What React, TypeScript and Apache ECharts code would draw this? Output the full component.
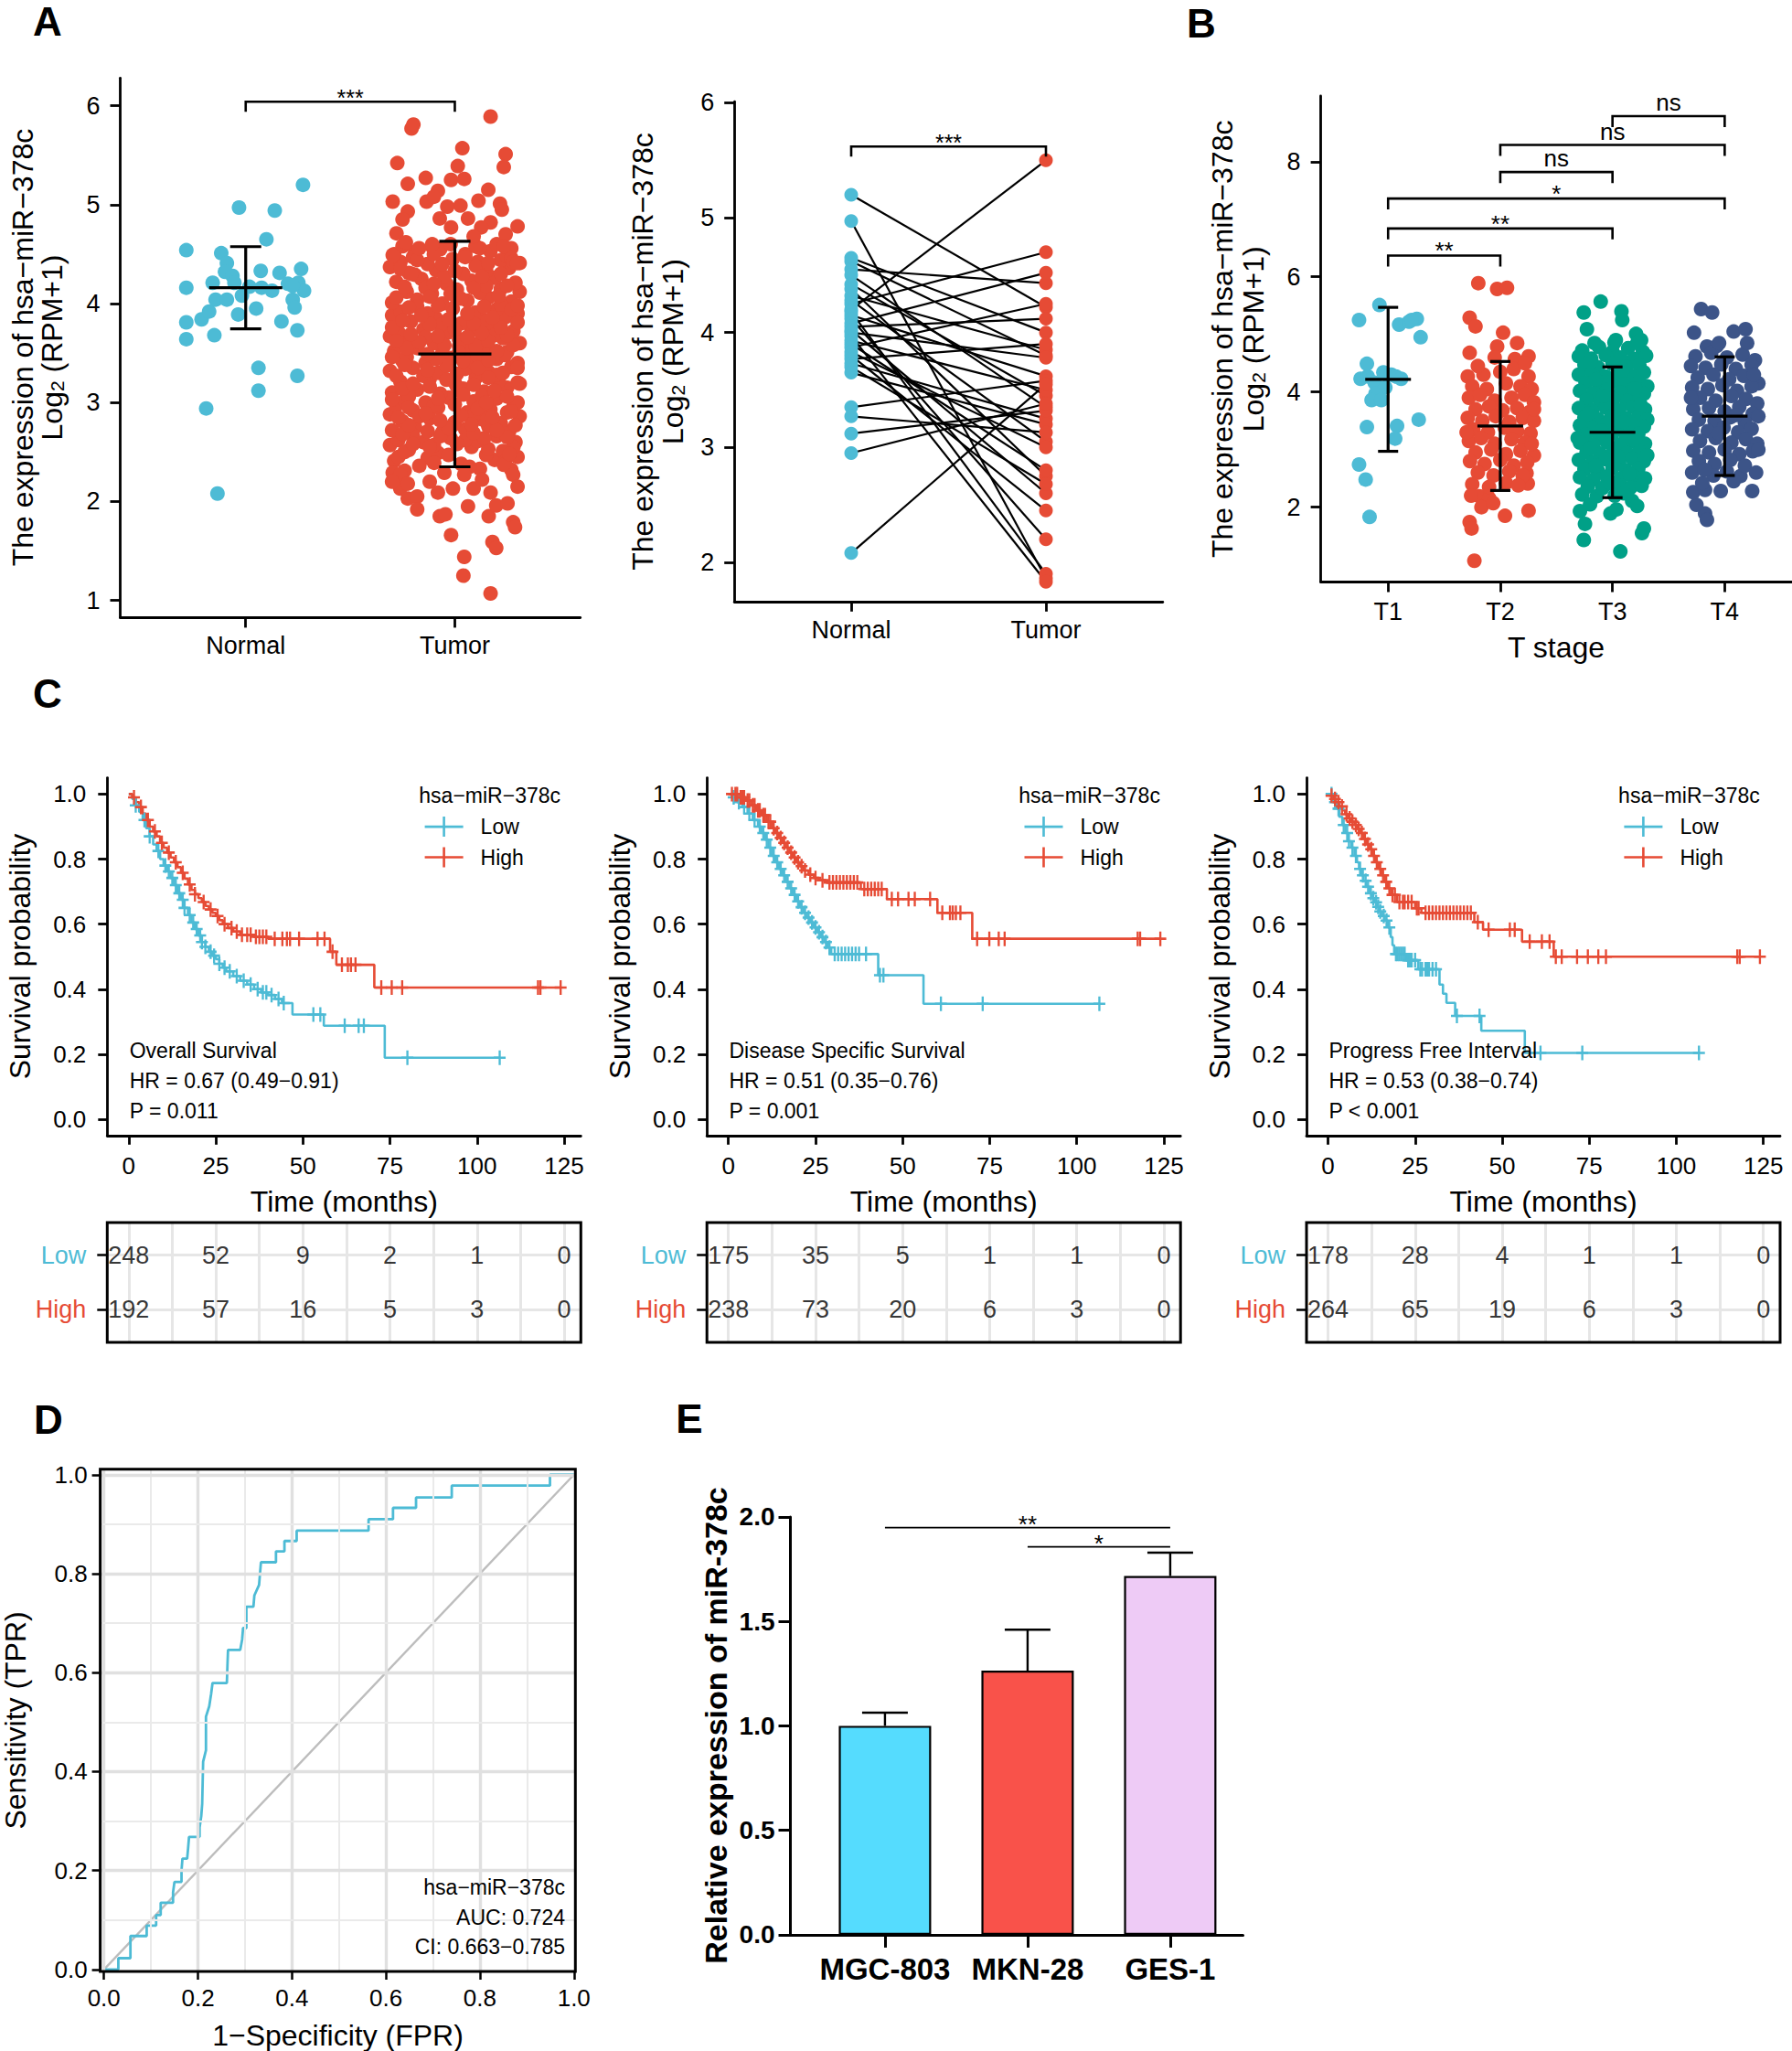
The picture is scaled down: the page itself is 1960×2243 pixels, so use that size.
import React, { useEffect, useRef } from "react";
import * as echarts from "echarts";

const FONT = '"Liberation Sans", Arial, Helvetica, sans-serif';
const BLUE = "#4DBBD5";
const RED = "#E64B35";
const GREEN = "#00A087";
const NAVY = "#3C5488";

// ---------------- Panel A (left): jittered points [offset, value] ----------------
const groupsA = ["Normal", "Tumor"];
const a1Normal = [[-0.284,4.54],[-0.284,4.16],[-0.284,3.81],[-0.284,3.64],[-0.211,3.84],[-0.175,3.92],[-0.15,3.68],[-0.144,4.04],[-0.158,4.21],[-0.117,4.51],[-0.09,4.41],[-0.099,4.32],[-0.063,4.28],[-0.036,3.89],[-0.032,4.97],[-0.189,2.94],[-0.135,2.08],[0.061,3.35],[0.061,3.12],[0.05,3.95],[0.072,4.33],[0.076,4.16],[0.099,4.65],[0.139,4.94],[0.162,4.31],[0.171,3.82],[0.202,4.2],[0.225,4.04],[0.234,3.96],[0.247,3.73],[0.247,3.27],[0.265,4.35],[0.252,4.21],[0.279,4.13],[0.274,5.2],[-0.018,4.08],[0.018,4.17],[-0.054,4.21],[0.126,4.13],[-0.09,4.04],[0.225,4.18]];
const a1Tumor = [
[-0.24,2.31],[0.12,2.33],[-0.05,2.29],[0.27,2.32],
[-0.29,2.41],[-0.13,2.44],[0.03,2.38],[0.19,2.42],[0.3,2.45],
[-0.22,2.52],[-0.08,2.49],[0.08,2.55],[0.23,2.51],[-0.31,2.57],
[-0.27,2.62],[-0.15,2.6],[-0.02,2.64],[0.11,2.61],[0.2,2.66],[0.29,2.6],
[-0.3,2.72],[-0.19,2.75],[-0.06,2.7],[0.05,2.73],[0.16,2.76],[0.26,2.71],
[-0.25,2.81],[-0.12,2.84],[0.0,2.8],[0.13,2.83],[0.22,2.79],[0.31,2.86],[-0.31,2.88],
[-0.2,2.92],[-0.08,2.95],[0.06,2.9],[0.17,2.93],[0.28,2.96],[-0.28,2.97],
[-0.24,3.02],[-0.14,3.0],[-0.03,3.05],[0.09,3.01],[0.2,3.04],[0.3,3.0],
[-0.3,3.1],[-0.18,3.13],[-0.07,3.09],[0.04,3.14],[0.14,3.11],[0.25,3.15],
[-0.26,3.21],[-0.12,3.24],[0.0,3.2],[0.1,3.25],[0.21,3.22],[0.31,3.19],
[-0.31,3.32],[-0.2,3.35],[-0.08,3.3],[0.05,3.34],[0.16,3.31],[0.27,3.36],
[-0.25,3.42],[-0.14,3.4],[-0.02,3.45],[0.09,3.41],[0.2,3.44],[0.3,3.4],
[-0.29,3.52],[-0.18,3.55],[-0.06,3.5],[0.06,3.53],[0.15,3.56],[0.25,3.51],
[-0.22,3.62],[-0.1,3.6],[0.02,3.64],[0.12,3.61],[0.23,3.65],[0.31,3.6],[-0.31,3.67],
[-0.27,3.71],[-0.15,3.74],[-0.04,3.7],[0.08,3.73],[0.18,3.76],[0.28,3.72],
[-0.21,3.82],[-0.09,3.85],[0.03,3.8],[0.14,3.83],[0.24,3.86],[-0.3,3.88],
[-0.26,3.92],[-0.13,3.9],[-0.01,3.95],[0.1,3.91],[0.2,3.94],[0.3,3.9],
[-0.3,4.01],[-0.18,4.04],[-0.06,4.0],[0.06,4.03],[0.16,4.06],[0.27,4.02],
[-0.23,4.12],[-0.11,4.1],[0.01,4.14],[0.12,4.11],[0.22,4.15],[0.31,4.12],
[-0.28,4.22],[-0.16,4.25],[-0.04,4.2],[0.08,4.23],[0.19,4.26],[0.29,4.21],
[-0.22,4.31],[-0.09,4.34],[0.04,4.3],[0.15,4.33],[0.26,4.36],[-0.31,4.37],
[-0.26,4.42],[-0.13,4.4],[-0.01,4.45],[0.11,4.42],[0.22,4.44],[0.31,4.41],
[-0.19,4.52],[-0.07,4.55],[0.05,4.5],[0.17,4.53],[0.27,4.56],
[-0.27,2.45],[-0.1,2.57],[0.15,2.47],[0.05,2.62],[-0.2,2.67],[0.24,2.68],[-0.01,2.77],[-0.17,2.86],[0.09,2.87],[0.25,2.9],[-0.1,2.97],[0.13,3.07],[-0.22,3.06],[0.01,3.16],[-0.15,3.27],[0.2,3.28],[-0.04,3.37],[0.11,3.47],[-0.23,3.46],[0.02,3.57],[-0.14,3.66],[0.19,3.68],[-0.07,3.78],[0.09,3.87],[-0.18,3.97],[0.22,3.99],[0.0,4.08],[-0.14,4.16],[0.15,4.18],[-0.05,4.27],[0.1,4.38],[-0.2,4.47],[0.25,4.48],[-0.11,4.58],[0.2,4.6],
[-0.17,2.36],[0.07,2.35],[0.24,2.4],[-0.03,2.47],[-0.24,2.5],[0.16,2.53],[-0.12,2.55],[0.28,2.55],[0.01,2.58],[-0.2,2.58],
[0.14,2.64],[-0.07,2.66],[0.25,2.65],[-0.25,2.68],[0.09,2.69],[-0.13,2.71],[0.2,2.72],[-0.03,2.74],[0.29,2.77],[-0.22,2.77],
[0.08,2.78],[-0.07,2.82],[0.18,2.85],[-0.27,2.85],[0.03,2.87],[-0.14,2.89],[0.27,2.91],[0.11,2.94],[-0.22,2.95],[0.0,2.98],
[-0.3,3.03],[0.15,3.0],[-0.08,3.04],[0.25,3.06],[0.04,3.08],[-0.25,3.14],[0.19,3.12],[-0.12,3.16],[0.09,3.18],[0.3,3.2],
[-0.2,3.19],[-0.04,3.23],[0.16,3.25],[-0.28,3.27],[0.01,3.29],[0.23,3.3],[-0.13,3.33],[0.11,3.35],[-0.24,3.38],[0.3,3.35],
[0.04,3.42],[-0.09,3.44],[0.16,3.43],[-0.3,3.46],[0.24,3.48],[-0.13,3.49],[0.02,3.51],[0.2,3.52],[-0.23,3.55],[0.1,3.57],
[-0.05,3.58],[0.28,3.58],[-0.17,3.61],[0.16,3.62],[-0.28,3.62],[0.06,3.66],[-0.08,3.67],[0.25,3.68],[-0.21,3.69],[0.13,3.7],
[0.0,3.74],[-0.3,3.76],[0.22,3.76],[-0.12,3.79],[0.09,3.8],[0.3,3.81],[-0.25,3.83],[-0.03,3.84],[0.18,3.86],[-0.16,3.88],
[0.06,3.9],[0.27,3.94],[-0.22,3.96],[0.14,3.97],[-0.08,3.98],[0.3,3.98],[-0.28,4.06],[0.03,4.05],[0.21,4.08],[-0.12,4.07],
[-0.02,4.1],[0.09,4.16],[-0.24,4.17],[0.25,4.18],[-0.1,4.2],[0.13,4.27],[-0.19,4.29],[0.0,4.33],[0.22,4.3],[-0.26,4.35],
[-0.06,4.4],[0.16,4.41],[-0.18,4.44],[0.05,4.47],[0.27,4.46],[-0.29,4.5],[-0.1,4.5],[0.12,4.56],[-0.02,4.6],[-0.25,4.58],
[-0.207,5.77],[-0.198,5.81],[0.171,5.89],[0.036,5.57],[0.243,5.51],[0.234,5.38],[-0.275,5.42],[0.014,5.39],[-0.139,5.27],[-0.225,5.21],[-0.018,5.25],[0.045,5.26],[-0.081,5.14],[-0.135,5.03],[-0.297,5.03],[0.113,5.04],[0.216,5.01],[0.225,4.95],[-0.225,4.93],[0.027,4.99],[-0.036,4.98],[-0.072,4.86],[0.063,4.86],[0.171,4.82],[0.126,4.77],[-0.018,4.77],[-0.279,4.71],[0.243,4.7],[-0.234,4.62],[0.234,4.58],[-0.171,4.56],[-0.108,4.6],[0.099,4.58],[-0.297,4.49],[0.279,4.42],[0.297,4.41],[-0.207,4.3],[-0.1,5.08],[0.16,5.15],[-0.25,4.85],[0.3,4.78],[0.09,4.68],
[-0.297,2.29],[-0.261,2.27],[-0.261,2.13],[-0.225,2.03],[-0.18,2.05],[-0.18,1.92],[-0.081,2.09],[-0.009,2.13],[0.063,1.95],[0.09,2.13],[-0.072,1.85],[-0.045,1.87],[-0.018,1.66],[0.045,1.44],[0.041,1.25],[0.171,1.07],[0.162,1.85],[0.198,1.96],[0.252,1.98],[0.18,1.59],[0.198,1.53],[0.279,1.79],[0.288,1.74],[0.234,2.37],[0.279,2.27],[0.261,2.48],[0.045,2.27],[-0.099,2.39],[-0.225,2.18],[0.171,2.09],[-0.12,2.2],[0.13,2.22],[0.3,2.15],[-0.3,2.2]
];
const a1Mean = [4.16, 3.49];
const a1Sd = [0.415, 1.14];
const a1BrStart = [1];
const a1BrEnd = [2];
const a1BrY = [6.04];
const a1BrLab = ["***"];

// ---------------- Panel A (right): paired samples ----------------
const pairNormal = [5.2,4.97,4.65,4.62,4.55,4.5,4.42,4.38,4.32,4.28,4.25,4.2,4.18,4.15,4.12,4.08,4.05,4.02,4.0,3.97,3.93,3.9,3.87,3.83,3.8,3.77,3.73,3.7,3.65,3.35,3.27,3.12,2.95,2.08];
const pairTumor = [4.22,1.86,4.0,3.8,4.43,3.35,3.45,2.75,3.85,3.05,4.7,5.5,1.9,3.62,2.2,4.52,4.12,2.6,3.78,1.83,3.5,2.8,4.25,3.0,2.45,3.9,3.25,2.68,3.2,3.58,3.13,3.32,3.38,3.55];
const a2BrY = [5.62];

// ---------------- Panel B: T stage ----------------
const stages = ["T1", "T2", "T3", "T4"];
const stageColors = [BLUE, RED, GREEN, NAVY];
const t1Pts = [[-0.077,5.51],[-0.259,5.25],[0.098,5.17],[0.186,5.22],[0.256,5.27],[0.21,5.25],[0.29,4.95],[-0.189,4.49],[-0.182,4.27],[-0.245,4.23],[-0.119,4.16],[-0.042,4.34],[0.028,4.3],[0.07,4.27],[0.116,4.23],[-0.025,4.08],[-0.112,3.97],[-0.147,3.86],[-0.06,3.86],[0.273,3.52],[-0.189,3.39],[0.08,3.41],[0.063,3.19],[-0.259,2.74],[-0.2,2.48],[-0.165,1.83]];
const t2Pts = [[-0.196,5.89],[-0.028,5.79],[0.06,5.81],[-0.273,5.29],[-0.221,5.14],[0.025,5.03],[-0.028,4.79],[-0.273,4.68],[0.252,4.62],[0.13,4.57],[-0.29,4.27],[0.252,4.27],[-0.273,1.74],[-0.256,1.63],[-0.231,1.07],[0.042,1.85],[0.252,1.94],[-0.186,2.19],[-0.098,2.15],[-0.168,2.0],[-0.063,2.07],[0.245,2.41],[0.234,2.59],
[-0.25,4.1],[-0.12,4.05],[0.05,4.15],[0.18,4.1],[0.28,4.05],
[-0.28,3.9],[-0.18,3.95],[-0.05,3.85],[0.1,3.9],[0.22,3.95],[0.3,3.82],
[-0.22,3.7],[-0.1,3.75],[0.02,3.68],[0.15,3.72],[0.26,3.65],
[-0.29,3.55],[-0.16,3.5],[-0.04,3.58],[0.08,3.48],[0.2,3.55],[0.3,3.5],
[-0.24,3.35],[-0.11,3.3],[0.04,3.38],[0.15,3.32],[0.27,3.28],
[-0.28,3.15],[-0.17,3.2],[-0.05,3.1],[0.1,3.18],[0.22,3.12],
[-0.22,2.95],[-0.08,3.0],[0.05,2.92],[0.18,2.98],[0.3,2.9],
[-0.27,2.8],[-0.14,2.75],[0.0,2.82],[0.12,2.72],[0.24,2.78],
[-0.2,2.6],[-0.06,2.55],[0.08,2.62],[0.2,2.55],
[-0.25,2.4],[-0.1,2.35],[0.05,2.42],[0.16,2.38],
[-0.15,4.3],[0.0,4.35],[0.12,4.4],[-0.2,4.45],[0.22,4.5],
[-0.3,3.3],[0.3,3.7],[-0.05,4.6],[0.15,4.85],[-0.26,2.2],[0.28,3.1]];
const t3Pts = [[-0.105,5.57],[-0.256,5.38],[0.08,5.4],[0.087,5.25],[0.21,5.01],[0.255,4.9],[-0.228,5.09],[0.018,4.86],[-0.29,1.93],[-0.245,1.71],[-0.256,1.43],[0.07,1.23],[0.263,1.55],[0.28,1.63],[-0.018,1.89],[-0.14,2.19],[0.175,2.11],[0.035,1.96],
[-0.27,4.72],[-0.12,4.78],[0.0,4.7],[0.14,4.76],[0.27,4.7],
[-0.3,4.62],[-0.19,4.58],[-0.06,4.64],[0.07,4.6],[0.19,4.57],[0.3,4.63],
[-0.25,4.47],[-0.13,4.43],[0.0,4.49],[0.12,4.44],[0.24,4.46],
[-0.3,4.3],[-0.18,4.33],[-0.06,4.27],[0.06,4.32],[0.17,4.28],[0.28,4.34],
[-0.24,4.16],[-0.12,4.13],[0.0,4.18],[0.11,4.14],[0.23,4.17],[0.31,4.1],
[-0.29,4.02],[-0.17,3.98],[-0.05,4.03],[0.07,3.99],[0.18,4.04],[0.28,3.97],
[-0.23,3.86],[-0.11,3.83],[0.01,3.88],[0.13,3.84],[0.24,3.87],
[-0.3,3.72],[-0.18,3.68],[-0.06,3.73],[0.06,3.69],[0.18,3.74],[0.29,3.7],
[-0.25,3.56],[-0.13,3.53],[-0.01,3.58],[0.12,3.54],[0.23,3.57],[0.31,3.52],
[-0.29,3.42],[-0.18,3.38],[-0.06,3.43],[0.06,3.39],[0.17,3.44],[0.28,3.4],
[-0.24,3.26],[-0.12,3.23],[0.0,3.28],[0.12,3.24],[0.23,3.27],[-0.31,3.2],
[-0.29,3.12],[-0.17,3.08],[-0.05,3.13],[0.07,3.09],[0.18,3.14],[0.29,3.1],
[-0.23,2.96],[-0.11,2.93],[0.01,2.98],[0.13,2.94],[0.24,2.97],[0.31,2.9],
[-0.3,2.82],[-0.18,2.78],[-0.06,2.83],[0.06,2.79],[0.18,2.84],[0.28,2.8],
[-0.25,2.66],[-0.13,2.63],[0.0,2.68],[0.12,2.64],[0.23,2.67],
[-0.29,2.52],[-0.17,2.48],[-0.05,2.53],[0.07,2.49],[0.18,2.54],[0.29,2.5],
[-0.22,2.36],[-0.09,2.33],[0.04,2.38],[0.16,2.34],[0.26,2.37],
[-0.27,2.22],[0.02,2.2],[0.1,2.24],[-0.2,2.05],[0.22,2.02],
[-0.2,4.52],[0.09,4.38],[-0.15,4.22],[0.2,4.06],[-0.08,3.93],[0.25,3.78],[-0.22,3.62],[0.1,3.48],[-0.1,3.33],[0.2,3.18],[-0.2,3.02],[0.05,2.88],[-0.15,2.72],[0.15,2.58],[-0.02,2.42],[0.03,4.9],[-0.16,4.85],[0.22,4.85]];
const t4Pts = [[-0.21,5.44],[-0.112,5.38],[-0.273,5.03],[0.08,5.05],[0.186,5.09],[-0.158,4.79],[-0.07,4.8],[-0.175,1.89],[-0.158,1.78],[-0.252,2.04],[-0.28,2.26],[-0.175,2.3],[-0.035,2.28],[0.245,2.28],[0.14,2.54],
[-0.26,4.62],[-0.12,4.68],[0.02,4.6],[0.16,4.65],[0.27,4.55],
[-0.3,4.45],[-0.17,4.42],[-0.03,4.48],[0.1,4.4],[0.24,4.47],
[-0.24,4.25],[-0.1,4.3],[0.04,4.22],[0.17,4.28],[0.3,4.15],
[-0.29,4.08],[-0.15,4.05],[-0.02,4.12],[0.11,4.02],[0.24,4.1],
[-0.22,3.9],[-0.08,3.85],[0.06,3.93],[0.19,3.88],[0.29,3.8],
[-0.28,3.7],[-0.14,3.72],[0.0,3.66],[0.13,3.74],[0.25,3.62],
[-0.23,3.52],[-0.09,3.5],[0.05,3.56],[0.18,3.48],[0.3,3.58],
[-0.29,3.35],[-0.15,3.32],[-0.01,3.38],[0.12,3.3],[0.24,3.36],
[-0.22,3.15],[-0.08,3.2],[0.06,3.12],[0.19,3.18],[0.29,3.1],
[-0.28,2.98],[-0.14,2.95],[0.0,3.0],[0.13,2.92],[0.25,2.97],
[-0.23,2.8],[-0.09,2.75],[0.05,2.82],[0.18,2.72],[0.28,2.6],
[-0.29,2.6],[-0.1,2.55],[0.02,2.62],[-0.2,2.42],[0.08,2.45],
[-0.05,4.85],[0.2,4.85],[0.26,4.3],[-0.3,3.9],[0.3,3.0],[-0.18,2.65],[0.1,3.6],[-0.05,3.28]];
const stageMean = [4.22, 3.41, 3.3, 3.58];
const stageSd = [1.25, 1.12, 1.135, 1.03];
const bBrStart = [1, 1, 1, 2, 2, 3];
const bBrEnd = [2, 3, 4, 3, 4, 4];
const bBrY = [6.37, 6.84, 7.36, 7.82, 8.29, 8.79];
const bBrLab = ["**", "**", "*", "ns", "ns", "ns"];

// ---------------- Panel C: Kaplan-Meier ----------------
const kmTitles = ["Overall Survival", "Disease Specific Survival", "Progress Free Interval"];
const kmHR = ["HR = 0.67 (0.49\u22120.91)", "HR = 0.51 (0.35\u22120.76)", "HR = 0.53 (0.38\u22120.74)"];
const kmP = ["P = 0.011", "P = 0.001", "P < 0.001"];

const osLowT = [0,1,2,3,4,5,6,7,8,9,10,11,12,13,14,15,16,17,18,19,20,21,22,23,24,25,26,27,28,30,32,34,36,38,40,42,44,47,56,73.5];
const osLowS = [1.0,0.985,0.965,0.945,0.92,0.895,0.87,0.845,0.825,0.8,0.78,0.762,0.742,0.72,0.695,0.675,0.65,0.628,0.605,0.585,0.565,0.545,0.53,0.515,0.503,0.492,0.478,0.466,0.455,0.44,0.426,0.414,0.4,0.39,0.382,0.37,0.357,0.322,0.2875,0.189];
const osLowC = [2,4.5,6,8.5,10.5,11.5,12.5,13.5,14.5,15.5,16,17.5,18.5,19.5,20.5,21,22,23.5,24.5,26,27.5,29,31,33,35,37,38.5,39.5,41,43,44.5,53,55,62,66,67.5,80,106.5];
const osHighT = [0,1,2,3,4,5,6,7,8,9,10,11,12,13,14,15,16,17,18,19,20,21,22,23,24,25,26,27,28.5,30,32,36,40,57.8,59.6,70.5];
const osHighS = [1.0,0.99,0.975,0.96,0.94,0.92,0.9,0.885,0.87,0.85,0.835,0.82,0.805,0.79,0.775,0.758,0.74,0.722,0.705,0.692,0.68,0.668,0.656,0.645,0.635,0.625,0.612,0.6,0.588,0.577,0.567,0.561,0.555,0.515,0.475,0.405];
const osHighC = [1.5,3.5,5.5,7.5,9.5,11.5,13.5,15.5,17.5,19,21.5,23.5,25.5,27.5,29.5,31,32.5,34,35,36.5,37.5,38.5,39.5,41.9,44.1,45.4,46.3,48.9,54.2,56.2,58.5,61.2,62.9,63.8,65.1,72.5,75.5,78.5,117.5,118.2,124];

const dssLowT = [0,1,2.5,4,5.5,7,8.5,9.5,10.5,11.5,12.5,13.5,14.5,15.5,16.5,17.5,18.5,19.5,20.5,21.5,22.5,23.5,24.5,25.5,26.5,27.5,28.5,29.5,43,56];
const dssLowS = [1.0,0.99,0.975,0.96,0.94,0.92,0.9,0.88,0.86,0.835,0.81,0.79,0.77,0.75,0.73,0.71,0.69,0.67,0.652,0.635,0.62,0.605,0.59,0.575,0.56,0.545,0.528,0.508,0.443,0.355];
const dssLowC = [1.5,3,4.5,6,7.5,9,10,11,12,13,14,15,16,17,18,19,20,21,22,23,24,25,26,27,28,29,30.5,31.5,32.5,33.5,34.5,35.5,36.5,37.5,39.5,43.5,44.5,61,73,106.5];
const dssHighT = [0,3,5,6.5,8,9.5,11,12.5,13.5,14.5,15.5,16.5,17.5,18.5,19.5,20.5,21.5,23,24.5,26,28,38,45.5,60,70];
const dssHighS = [1.0,0.99,0.98,0.965,0.95,0.935,0.915,0.895,0.88,0.865,0.85,0.835,0.82,0.805,0.79,0.778,0.765,0.752,0.742,0.735,0.728,0.708,0.677,0.635,0.555];
const dssHighC = [1,2,2.5,3.5,4,4.5,5.5,6,7,7.5,8.5,9,10,10.5,11.5,12,13,14,15,16,17,18,19,20,21,22,23.5,25,27,29,30,31,32,33,34,35,36,37,39,40,41,42,43,44,46.9,48.7,51.7,53.5,57.9,61.4,63.6,64.4,65.3,66.6,71.4,74.9,77.6,79.3,117.5,118.2,124];

const pfiLowT = [0,1.4,2.5,3.2,4.1,5,5.8,6.7,7.6,8.3,8.9,9.6,10.2,11,12,12.7,13.3,14,14.6,15.5,16.3,17.2,18,18.5,19,22.5,25.9,32,33,34,36.5,44,56.5];
const pfiLowS = [1.0,0.975,0.955,0.93,0.905,0.88,0.855,0.835,0.81,0.79,0.77,0.75,0.733,0.715,0.695,0.68,0.667,0.653,0.639,0.625,0.611,0.59,0.56,0.535,0.508,0.489,0.461,0.414,0.386,0.358,0.318,0.272,0.204];
const pfiLowC = [1,2,3,4.5,5.5,6,7,8,9.2,10,10.8,11.5,12.3,13,13.8,14.4,15,16,16.8,17.6,19.5,20,20.5,21,21.5,22,23,23.5,24,25,26.5,27,28,28.5,29,30,31,37,43.5,61,73,106.5];
const pfiHighT = [0,0.5,1.5,2.3,3.2,4.1,4.9,5.8,6.7,7.6,8.4,9.3,10.2,11.1,12,12.8,13.7,14.6,15.4,16.3,17.2,18.1,19.8,25,26.8,42,44.5,55.7,64.8];
const pfiHighS = [1.0,0.995,0.985,0.975,0.962,0.95,0.938,0.925,0.915,0.905,0.893,0.88,0.862,0.845,0.83,0.81,0.79,0.77,0.75,0.73,0.71,0.69,0.668,0.649,0.635,0.606,0.583,0.546,0.5];
const pfiHighC = [1,2,3,4,5.3,6.2,7,8,8.8,9.7,10.6,11.5,12.4,13.2,14,15,15.8,16.7,17.6,18.5,19.2,20.5,21.5,22,23,24,25.5,26,28,29,30,31,32,33,34,35,36,37,38,39,40,41,43,46.1,52.2,53.6,57.9,61.4,63.6,65.4,67.1,71.5,74.6,77.6,79.8,117.5,118.2,124];

const riskTimes = [0, 25, 50, 75, 100, 125];
const riskOsLow = [248, 52, 9, 2, 1, 0];
const riskOsHigh = [192, 57, 16, 5, 3, 0];
const riskDssLow = [175, 35, 5, 1, 1, 0];
const riskDssHigh = [238, 73, 20, 6, 3, 0];
const riskPfiLow = [178, 28, 4, 1, 1, 0];
const riskPfiHigh = [264, 65, 19, 6, 3, 0];
const riskGridX = [0, 12.5, 25, 37.5, 50, 62.5, 75, 87.5, 100, 112.5, 125];
const timeTicks = [0, 25, 50, 75, 100, 125];
const survTicks = [0, 0.2, 0.4, 0.6, 0.8, 1.0];

// ---------------- Panel D: ROC ----------------
const rocFpr = [0,0.0306,0.0306,0.0563,0.0563,0.0909,0.0909,0.111,0.111,0.1207,0.1207,0.147,0.147,0.15,0.165,0.165,0.167,0.177,0.179,0.181,0.2035,0.2035,0.207,0.209,0.211,0.217,0.217,0.224,0.228,0.231,0.2615,0.263,0.264,0.29,0.294,0.296,0.303,0.303,0.318,0.32,0.33,0.334,0.366,0.366,0.384,0.384,0.41,0.41,0.563,0.563,0.615,0.615,0.664,0.664,0.74,0.74,0.949,0.949,1.0];
const rocTpr = [0,0,0.0228,0.0228,0.0676,0.0676,0.0887,0.0887,0.11,0.11,0.135,0.135,0.156,0.177,0.177,0.2,0.224,0.224,0.245,0.268,0.268,0.287,0.31,0.335,0.42,0.443,0.511,0.532,0.557,0.579,0.579,0.621,0.646,0.646,0.667,0.69,0.69,0.733,0.733,0.756,0.777,0.823,0.823,0.845,0.845,0.866,0.866,0.887,0.887,0.91,0.91,0.933,0.933,0.954,0.954,0.978,0.978,1.0,1.0];
const diagX = [0, 1];
const diagY = [0, 1];
const rocTicks = [0, 0.2, 0.4, 0.6, 0.8, 1.0];
const rocMajor = [0.2, 0.4, 0.6, 0.8];
const rocMinor = [0.1, 0.3, 0.5, 0.7, 0.9];

// ---------------- Panel E: qPCR bars ----------------
const cellLines = ["MGC-803", "MKN-28", "GES-1"];
const cellMean = [1.0, 1.264, 1.717];
const cellSd = [0.063, 0.196, 0.112];
const cellColors = ["#55DCFE", "#F9524A", "#EECBF6"];
const eTicks = [0, 0.5, 1.0, 1.5, 2.0];
const eBrStart = [1, 2];
const eBrEnd = [3, 3];
const eBrY = [1.949, 1.857];
const eBrLab = ["**", "*"];

// ---------------- helpers ----------------
const PLUS = "path://M-0.18,-1H0.18V-0.16H1V0.16H0.18V1H-0.18V0.16H-1V-0.16H-0.18Z";
const LEGEND_ICON = "path://M0,9.7H42V12.3H0Z M19.7,0H22.3V22H19.7Z";

function survAt(T: number[], S: number[], t: number) {
  let v = S[0];
  for (let i = 0; i < T.length; i++) if (T[i] <= t) v = S[i];
  return v;
}

function jit(pts: number[][], x: number) {
  return pts.map((p) => [x + p[0], p[1]]);
}

function valAxis(gi: number, min: number, max: number, ticks: number[], fs: number, margin: number, fmt: any, o: any = {}) {
  return {
    type: "value",
    gridIndex: gi,
    min,
    max,
    axisLine: { show: o.line !== false, onZero: false, lineStyle: { color: "#000", width: o.lw || 2.8 } },
    axisTick: { show: true, length: o.tl || 11, customValues: ticks, lineStyle: { color: "#000", width: o.lw || 2.8 } },
    axisLabel: {
      show: true,
      customValues: ticks,
      fontSize: fs,
      color: "#000",
      margin,
      fontFamily: FONT,
      fontWeight: o.bold ? "bold" : "normal",
      formatter: fmt,
      rich: o.rich,
    },
    splitLine: { show: false },
  };
}

function meanSdSeries(gi: number, xs: number[], means: number[], sds: number[], meanHalf: number, capHalf: number) {
  return {
    type: "custom",
    xAxisIndex: gi,
    yAxisIndex: gi,
    z: 5,
    silent: true,
    data: xs.map((x, i) => [x, means[i], sds[i]]),
    renderItem: (params: any, api: any) => {
      const x = api.value(0), m = api.value(1), s = api.value(2);
      const c = api.coord([x, m]);
      const t = api.coord([x, m + s]);
      const b = api.coord([x, m - s]);
      const st = () => ({ stroke: "#000", lineWidth: 3.2 });
      return {
        type: "group",
        children: [
          { type: "line", shape: { x1: c[0], y1: t[1], x2: c[0], y2: b[1] }, style: st() },
          { type: "line", shape: { x1: c[0] - capHalf, y1: t[1], x2: c[0] + capHalf, y2: t[1] }, style: st() },
          { type: "line", shape: { x1: c[0] - capHalf, y1: b[1], x2: c[0] + capHalf, y2: b[1] }, style: st() },
          { type: "line", shape: { x1: c[0] - meanHalf, y1: c[1], x2: c[0] + meanHalf, y2: c[1] }, style: st() },
        ],
      };
    },
  };
}

function bracketSeries(gi: number, starts: number[], ends: number[], ys: number[], labels: string[], drop: number, fs: number, lw: number, starOff: number, textOff: number) {
  return {
    type: "custom",
    xAxisIndex: gi,
    yAxisIndex: gi,
    z: 6,
    silent: true,
    data: starts.map((s, i) => [s, ys[i], ends[i]]),
    renderItem: (params: any, api: any) => {
      const i = params.dataIndex;
      const p1 = api.coord([api.value(0), api.value(1)]);
      const p2 = api.coord([api.value(2), api.value(1)]);
      const lab = labels[i];
      const isStar = lab.indexOf("*") >= 0;
      const ty = p1[1] - (isStar ? starOff : textOff);
      return {
        type: "group",
        children: [
          {
            type: "polyline",
            shape: { points: [[p1[0], p1[1] + drop], [p1[0], p1[1]], [p2[0], p2[1]], [p2[0], p2[1] + drop]] },
            style: { stroke: "#000", lineWidth: lw, fill: "none" },
          },
          {
            type: "text",
            style: { text: lab, x: (p1[0] + p2[0]) / 2, y: ty, align: "center", verticalAlign: "middle", fontSize: fs, fontFamily: FONT, fill: "#000" },
          },
        ],
      };
    },
  };
}

function kmSeries(gi: number, T: number[], S: number[], C: number[], color: string, name: string) {
  const last = Math.max(...C);
  const lineData = T.map((t, i) => [t, S[i]]);
  if (last > T[T.length - 1]) lineData.push([last, S[S.length - 1]]);
  return [
    {
      type: "scatter",
      name,
      xAxisIndex: gi,
      yAxisIndex: gi,
      data: C.map((t) => [t, survAt(T, S, t)]),
      symbol: PLUS,
      symbolSize: [13, 16],
      itemStyle: { color, opacity: 1 },
      z: 4,
      silent: true,
    },
    {
      type: "line",
      name,
      xAxisIndex: gi,
      yAxisIndex: gi,
      data: lineData,
      step: "end",
      symbol: "none",
      lineStyle: { color, width: 2.6 },
      itemStyle: { color },
      z: 3,
      silent: true,
    },
  ];
}

function riskSeries(gi: number, low: number[], high: number[]) {
  const data: any[] = [];
  riskTimes.forEach((t, i) => {
    data.push([t, 2, low[i]]);
    data.push([t, 1, high[i]]);
  });
  return [
    {
      type: "scatter",
      xAxisIndex: gi,
      yAxisIndex: gi,
      data: [[50, 1.5]],
      symbolSize: 0,
      z: 1,
      silent: true,
      markLine: {
        silent: true,
        symbol: ["none", "none"],
        label: { show: false },
        lineStyle: { color: "#E6E6E6", width: 3, type: "solid" },
        data: [...riskGridX.map((v) => ({ xAxis: v })), { yAxis: 1 }, { yAxis: 2 }],
      },
    },
    {
      type: "scatter",
      xAxisIndex: gi,
      yAxisIndex: gi,
      data,
      symbolSize: 0,
      itemStyle: { color: "#000" },
      z: 5,
      silent: true,
      label: {
        show: true,
        position: "inside",
        formatter: (p: any) => String(p.value[2]),
        fontSize: 27,
        color: "#000",
        fontFamily: FONT,
        textBorderWidth: 0,
        textBorderColor: "transparent",
        textShadowBlur: 0,
      },
    },
  ];
}

function txt(text: string, x: number, y: number, o: any = {}) {
  const align = o.align || "left";
  return {
    type: "text",
    x,
    y,
    rotation: o.rot || 0,
    z: 100,
    silent: true,
    style: {
      text,
      fontSize: o.size || 23,
      fontFamily: FONT,
      fontWeight: o.weight || "normal",
      fill: "#000",
      align,
      verticalAlign: "middle",
      textAlign: align,
      textVerticalAlign: "middle",
      rich: o.rich,
    },
  };
}

function buildOption() {
  const kmLeft = [117.3, 773.2, 1429.0];
  const grids: any[] = [
    { left: 131.5, top: 85.3, width: 503.2, height: 590.1 },
    { left: 803.2, top: 111.2, width: 468.6, height: 546.6 },
    { left: 1444.6, top: 105, width: 515.4, height: 531.5 },
    ...kmLeft.map((l) => ({ left: l, top: 850.6, width: 518, height: 391.2 })),
    ...kmLeft.map((l) => ({ left: l, top: 1337, width: 518, height: 131, show: true, borderColor: "#000", borderWidth: 3, z: 10, backgroundColor: "transparent" })),
    { left: 109.6, top: 1606.8, width: 519.7, height: 549.2, show: true, borderColor: "#000", borderWidth: 3, z: 10, backgroundColor: "transparent" },
    { left: 864.5, top: 1658.9, width: 495, height: 457 },
  ].map((g) => ({ containLabel: false, outerBoundsMode: "none", ...g }));

  const fmt1 = (v: number) => v.toFixed(1);
  const fmtInt = (v: number) => String(Math.round(v));
  const xAxes: any[] = [];
  const yAxes: any[] = [];

  // A1
  xAxes.push(valAxis(0, 0.4, 2.6, [1, 2], 27, 17, (v: number) => groupsA[Math.round(v) - 1]));
  yAxes.push(valAxis(0, 0.826, 6.28, [1, 2, 3, 4, 5, 6], 27, 22, fmtInt));
  // A2
  xAxes.push(valAxis(1, 0.4, 2.6, [1, 2], 27, 18, (v: number) => groupsA[Math.round(v) - 1]));
  yAxes.push(valAxis(1, 1.658, 6.01, [2, 3, 4, 5, 6], 27, 22, fmtInt));
  // B
  xAxes.push(valAxis(2, 0.4, 4.6, [1, 2, 3, 4], 27, 19, (v: number) => stages[Math.round(v) - 1]));
  yAxes.push(valAxis(2, 0.7, 9.14, [2, 4, 6, 8], 27, 22, fmtInt));
  // KM plots
  for (let k = 0; k < 3; k++) {
    xAxes.push(valAxis(3 + k, -6.18, 129.8, timeTicks, 26, 20, fmtInt, { tl: 10 }));
    yAxes.push(valAxis(3 + k, -0.05, 1.05, survTicks, 26, 23, fmt1, { tl: 10 }));
  }
  // risk tables
  for (let k = 0; k < 3; k++) {
    xAxes.push({ type: "value", gridIndex: 6 + k, min: -6.18, max: 129.8, show: false });
    yAxes.push(
      valAxis(6 + k, 0.4, 2.6, [1, 2], 27, 23, (v: number) => (Math.round(v) === 2 ? "{l|Low}" : "{h|High}"), {
        line: false,
        tl: 11,
        lw: 2.5,
        rich: { l: { color: BLUE, fontSize: 27, fontFamily: FONT }, h: { color: RED, fontSize: 27, fontFamily: FONT } },
      })
    );
  }
  // D
  xAxes.push(valAxis(9, -0.008, 1.003, rocTicks, 26, 16, fmt1, { line: false, tl: 9, lw: 2.5 }));
  yAxes.push(valAxis(9, -0.004, 1.011, rocTicks, 26, 14, fmt1, { line: false, tl: 9, lw: 2.5 }));
  // E
  xAxes.push(valAxis(10, 0.337, 3.51, [1, 2, 3], 33, 21, (v: number) => cellLines[Math.round(v) - 1], { tl: 14, lw: 3, bold: true }));
  yAxes.push(valAxis(10, 0, 2, eTicks, 28, 17, fmt1, { tl: 13, lw: 3, bold: true }));

  const series: any[] = [];

  // A1
  series.push({ type: "scatter", xAxisIndex: 0, yAxisIndex: 0, data: jit(a1Normal, 1), symbolSize: 16, itemStyle: { color: BLUE, opacity: 1 }, z: 2, silent: true });
  series.push({ type: "scatter", xAxisIndex: 0, yAxisIndex: 0, data: jit(a1Tumor, 2), symbolSize: 16, itemStyle: { color: RED, opacity: 1 }, z: 2, silent: true });
  series.push(meanSdSeries(0, [1, 2], a1Mean, a1Sd, 40, 17));
  series.push(bracketSeries(0, a1BrStart, a1BrEnd, a1BrY, a1BrLab, 11, 25, 2.6, 4.5, 14));

  // A2
  series.push({
    type: "lines",
    coordinateSystem: "cartesian2d",
    xAxisIndex: 1,
    yAxisIndex: 1,
    polyline: false,
    silent: true,
    z: 2,
    lineStyle: { color: "#000", width: 2.2, opacity: 1 },
    data: pairNormal.map((n, i) => ({ coords: [[1, n], [2, pairTumor[i]]] })),
  });
  series.push({ type: "scatter", xAxisIndex: 1, yAxisIndex: 1, data: pairNormal.map((v) => [1, v]), symbolSize: 15, itemStyle: { color: BLUE, opacity: 1 }, z: 3, silent: true });
  series.push({ type: "scatter", xAxisIndex: 1, yAxisIndex: 1, data: pairTumor.map((v) => [2, v]), symbolSize: 15, itemStyle: { color: RED, opacity: 1 }, z: 3, silent: true });
  series.push(bracketSeries(1, [1], [2], a2BrY, ["***"], 11, 25, 2.6, 4.5, 14));

  // B
  [t1Pts, t2Pts, t3Pts, t4Pts].forEach((pts, i) => {
    series.push({ type: "scatter", xAxisIndex: 2, yAxisIndex: 2, data: jit(pts, i + 1), symbolSize: 16, itemStyle: { color: stageColors[i], opacity: 1 }, z: 2, silent: true });
  });
  series.push(meanSdSeries(2, [1, 2, 3, 4], stageMean, stageSd, 25, 11));
  series.push(bracketSeries(2, bBrStart, bBrEnd, bBrY, bBrLab, 12, 26, 2.6, 5, 15));

  // C
  series.push(...kmSeries(3, osLowT, osLowS, osLowC, BLUE, "Low"));
  series.push(...kmSeries(3, osHighT, osHighS, osHighC, RED, "High"));
  series.push(...kmSeries(4, dssLowT, dssLowS, dssLowC, BLUE, "Low"));
  series.push(...kmSeries(4, dssHighT, dssHighS, dssHighC, RED, "High"));
  series.push(...kmSeries(5, pfiLowT, pfiLowS, pfiLowC, BLUE, "Low"));
  series.push(...kmSeries(5, pfiHighT, pfiHighS, pfiHighC, RED, "High"));
  series.push(...riskSeries(6, riskOsLow, riskOsHigh));
  series.push(...riskSeries(7, riskDssLow, riskDssHigh));
  series.push(...riskSeries(8, riskPfiLow, riskPfiHigh));

  // D
  series.push({
    type: "scatter",
    xAxisIndex: 9,
    yAxisIndex: 9,
    data: [[0.5, 0.5]],
    symbolSize: 0,
    z: 1,
    silent: true,
    markLine: {
      silent: true,
      symbol: ["none", "none"],
      label: { show: false },
      lineStyle: { type: "solid", color: "#E2E2E2" },
      data: [
        ...[0, ...rocMajor].map((v) => ({ xAxis: v, lineStyle: { width: 3.4, color: "#E0E0E0", type: "solid" } })),
        ...rocMinor.map((v) => ({ xAxis: v, lineStyle: { width: 2, color: "#EAEAEA", type: "solid" } })),
        ...[...rocMajor, 1.0].map((v) => ({ yAxis: v, lineStyle: { width: 3.4, color: "#E0E0E0", type: "solid" } })),
        ...rocMinor.map((v) => ({ yAxis: v, lineStyle: { width: 2, color: "#EAEAEA", type: "solid" } })),
      ],
    },
  });
  series.push({ type: "line", xAxisIndex: 9, yAxisIndex: 9, data: diagX.map((x, i) => [x, diagY[i]]), symbol: "none", lineStyle: { color: "#BDBDBD", width: 2.4 }, z: 2, silent: true });
  series.push({ type: "line", xAxisIndex: 9, yAxisIndex: 9, data: rocFpr.map((x, i) => [x, rocTpr[i]]), symbol: "none", lineStyle: { color: BLUE, width: 2.8 }, z: 3, silent: true });

  // E
  series.push({
    type: "bar",
    xAxisIndex: 10,
    yAxisIndex: 10,
    barWidth: 101,
    z: 2,
    silent: true,
    data: cellMean.map((v, i) => ({ value: [i + 1, v], itemStyle: { color: cellColors[i], borderColor: "#000", borderWidth: 2.2 } })),
  });
  series.push({
    type: "custom",
    xAxisIndex: 10,
    yAxisIndex: 10,
    z: 3,
    silent: true,
    data: cellMean.map((v, i) => [i + 1, v, cellSd[i]]),
    renderItem: (params: any, api: any) => {
      const x = api.value(0), m = api.value(1), s = api.value(2);
      const b = api.coord([x, m]);
      const t = api.coord([x, m + s]);
      return {
        type: "group",
        children: [
          { type: "line", shape: { x1: b[0], y1: b[1], x2: b[0], y2: t[1] }, style: { stroke: "#000", lineWidth: 2.4 } },
          { type: "line", shape: { x1: b[0] - 25, y1: t[1], x2: b[0] + 25, y2: t[1] }, style: { stroke: "#000", lineWidth: 2.4 } },
        ],
      };
    },
  });
  series.push(bracketSeries(10, eBrStart, eBrEnd, eBrY, eBrLab, 0, 26, 1.8, 4, 14));

  // legends for KM plots
  const legLeft = [464.6, 1120.5, 1776.4];
  const legend = legLeft.map((l) => ({
    show: true,
    orient: "vertical",
    left: l,
    top: 892.6,
    padding: 0,
    itemWidth: 42,
    itemHeight: 22,
    itemGap: 10.4,
    icon: LEGEND_ICON,
    selectedMode: false,
    data: ["Low", "High"],
    textStyle: { fontSize: 23, color: "#000", fontFamily: FONT, padding: [0, 0, 0, 14] },
  }));

  // texts
  const sub = { a: { fontSize: 32, fontFamily: FONT, fill: "#000" }, b: { fontSize: 21, fontFamily: FONT, verticalAlign: "bottom" } };
  const logLine = "{a|Log}{b|2}{a| (RPM+1)}";
  const title1 = "The expression of hsa\u2212miR\u2212378c";
  const rot = Math.PI / 2;
  const g: any[] = [
    txt("A", 52, 23, { size: 44, weight: "bold", align: "center" }),
    txt("B", 1314, 25, { size: 44, weight: "bold", align: "center" }),
    txt("C", 52, 758, { size: 44, weight: "bold", align: "center" }),
    txt("D", 53, 1552, { size: 44, weight: "bold", align: "center" }),
    txt("E", 754, 1551, { size: 44, weight: "bold", align: "center" }),
    txt(title1, 25, 380, { size: 32, align: "center", rot }),
    txt(logLine, 57, 380, { size: 32, align: "center", rot, rich: sub }),
    txt(title1, 703, 384.5, { size: 32, align: "center", rot }),
    txt(logLine, 736, 384.5, { size: 32, align: "center", rot, rich: sub }),
    txt(title1, 1337, 370.8, { size: 32, align: "center", rot }),
    txt(logLine, 1371, 370.8, { size: 32, align: "center", rot, rich: sub }),
    txt("T stage", 1702, 708, { size: 32, align: "center" }),
    txt("Sensitivity (TPR)", 17, 1881.4, { size: 32, align: "center", rot }),
    txt("1\u2212Specificity (FPR)", 369.5, 2226, { size: 32, align: "center" }),
    txt("hsa\u2212miR\u2212378c", 618, 2064, { size: 23, align: "right" }),
    txt("AUC: 0.724", 618, 2096.7, { size: 23, align: "right" }),
    txt("CI: 0.663\u22120.785", 618, 2128.7, { size: 23, align: "right" }),
    txt("Relative expression of miR-378c", 782.5, 1887, { size: 34, weight: "bold", align: "center", rot }),
  ];
  const survX = [22, 678, 1334];
  const timeX = [376.3, 1032.2, 1688];
  const annX = [141.7, 797.5, 1453.5];
  const legTitleX = [458.3, 1114.2, 1770.1];
  for (let k = 0; k < 3; k++) {
    g.push(txt("Survival probability", survX[k], 1046, { size: 32, align: "center", rot }));
    g.push(txt("Time (months)", timeX[k], 1314, { size: 32, align: "center" }));
    g.push(txt(kmTitles[k], annX[k], 1149, { size: 23 }));
    g.push(txt(kmHR[k], annX[k], 1182, { size: 23 }));
    g.push(txt(kmP[k], annX[k], 1215, { size: 23 }));
    g.push(txt("hsa\u2212miR\u2212378c", legTitleX[k], 870, { size: 23 }));
  }

  return {
    animation: false,
    backgroundColor: "#ffffff",
    textStyle: { fontFamily: FONT },
    grid: grids,
    xAxis: xAxes,
    yAxis: yAxes,
    legend,
    series,
    graphic: g,
  };
}

export default function App() {
  const ref = useRef<HTMLDivElement>(null);
  useEffect(() => {
    if (!ref.current) return;
    const chart = echarts.init(ref.current, null, { renderer: "svg", width: 1960, height: 2243 });
    chart.setOption(buildOption() as any);
    return () => {
      chart.dispose();
    };
  }, []);
  return (
    <div
      ref={ref}
      style={{ position: "absolute", left: 0, top: 0, width: 1960, height: 2243, background: "#fff" }}
    />
  );
}
